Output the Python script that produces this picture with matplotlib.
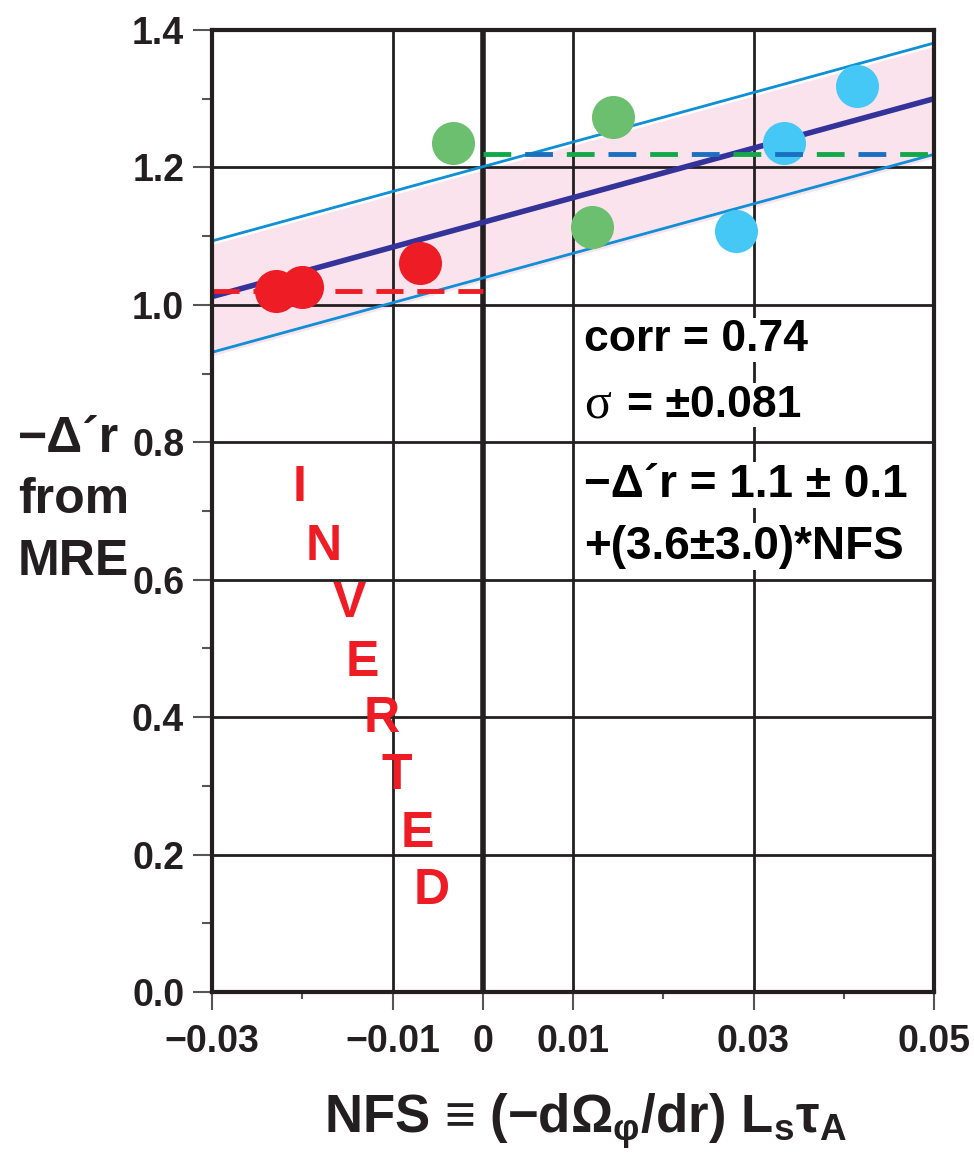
import matplotlib
matplotlib.use('Agg')
import matplotlib.pyplot as plt
import numpy as np

plt.rcParams['font.family'] = ['Liberation Sans', 'DejaVu Sans']
plt.rcParams['font.weight'] = 'bold'
plt.rcParams['mathtext.default'] = 'regular'
plt.rcParams['lines.scale_dashes'] = False

# NFS and -delta' r for the three groups of shots
nfs_red = [-0.0229, -0.0200, -0.0070]
dr_red = [1.020, 1.026, 1.061]
nfs_green = [-0.0033, 0.0144, 0.0121]
dr_green = [1.236, 1.274, 1.113]
nfs_blue = [0.0281, 0.0334, 0.0415]
dr_blue = [1.108, 1.236, 1.319]

# linear fit and scatter
fit_intercept = 1.12
fit_slope = 3.6
sigma = 0.081
mean_red = 1.02
mean_green_blue = 1.22

x_ticks = [-0.03, -0.01, 0, 0.01, 0.03, 0.05]
x_ticklabels = ['\u22120.03', '\u22120.01', '0', '0.01', '0.03', '0.05']
x_minor = [-0.02, 0.02, 0.04]
y_ticks = [0.0, 0.2, 0.4, 0.6, 0.8, 1.0, 1.2, 1.4]
y_ticklabels = ['0.0', '0.2', '0.4', '0.6', '0.8', '1.0', '1.2', '1.4']
y_minor = [0.1, 0.3, 0.5, 0.7, 0.9, 1.1, 1.3]

word = 'INVERTED'
word_x = [-0.0203, -0.0176, -0.0148, -0.0133, -0.0112, -0.0095, -0.0073, -0.0057]
word_y = [0.734, 0.647, 0.565, 0.479, 0.397, 0.314, 0.230, 0.147]

RED = '#ee1c25'
GREEN = '#6cbf6e'
LBLUE = '#45c8f5'
INK = '#231f20'

fig = plt.figure(figsize=(9.74, 11.6), dpi=100)
ax = fig.add_axes([212/974, 168/1160, 722/974, 962/1160])
ax.set_xlim(-0.03, 0.05)
ax.set_ylim(0, 1.4)

# grid
for yv in [0.2, 0.4, 0.6, 0.8, 1.0, 1.2]:
    ax.axhline(yv, color=INK, lw=2.0, zorder=1)
for xv in [-0.01, 0.01, 0.03]:
    ax.axvline(xv, color=INK, lw=2.0, zorder=1)
ax.axvline(0, color=INK, lw=4.0, zorder=1)

# fit with +/- sigma band
xf = np.array([-0.03, 0.05])
yf = fit_intercept + fit_slope * xf
ax.fill_between(xf, yf - sigma - 0.005, yf + sigma - 0.005, color='#fae3ec', lw=0, zorder=0)
ax.plot(xf, yf, color='#333399', lw=4.0, zorder=2, solid_capstyle='butt')
ax.plot(xf, yf + sigma, color='#0f8fd6', lw=2.0, zorder=2)
ax.plot(xf, yf - sigma, color='#0f8fd6', lw=2.0, zorder=2)

ax.plot([-0.03, 0], [mean_red, mean_red], color=RED, lw=3.5,
        linestyle=(0, (19.5, 10)), zorder=2.5)

ax.plot(nfs_red, dr_red, 'o', ms=31, color=RED, mec='none', zorder=3)
ax.plot(nfs_green, dr_green, 'o', ms=31, color=GREEN, mec='none', zorder=3)
ax.plot(nfs_blue, dr_blue, 'o', ms=31, color=LBLUE, mec='none', zorder=3)

ax.plot([0, 0.05], [mean_green_blue, mean_green_blue], color='#12a84a', lw=3.5,
        linestyle=(0, (20, 40)), zorder=3.5)
ax.plot([0, 0.05], [mean_green_blue, mean_green_blue], color='#1a6fc0', lw=3.5,
        linestyle=(30, (20, 40)), zorder=3.5)

for ch, xv, yv in zip(word, word_x, word_y):
    ax.text(xv, yv, ch, color=RED, fontsize=36, fontweight='bold',
            ha='center', va='center', zorder=4)

box = dict(facecolor='white', edgecolor='none', pad=1)
ax.text(0.0112, 0.949, 'corr = 0.74', fontsize=32, va='center', ha='left', bbox=box, zorder=4)
ax.text(0.0112, 0.854, '\u03c3', fontsize=36, va='center', ha='left', zorder=4,
        fontfamily=['Liberation Serif', 'DejaVu Serif'], fontweight='normal', bbox=box)
ax.text(0.0160, 0.854, '= \u00b10.081', fontsize=32, va='center', ha='left', bbox=box, zorder=4)
ax.text(0.0112, 0.738, '\u2212\u0394\u00b4r = 1.1 \u00b1 0.1', fontsize=33, va='center', ha='left',
        bbox=box, zorder=4)
ax.text(0.0112, 0.648, '+(3.6\u00b13.0)*NFS', fontsize=33, va='center', ha='left', bbox=box, zorder=4)

# axes frame and ticks
for sp in ax.spines.values():
    sp.set_linewidth(3.0)
    sp.set_color(INK)
    sp.set_zorder(5)
ax.set_xticks(x_ticks)
ax.set_xticklabels(x_ticklabels)
ax.set_xticks(x_minor, minor=True)
ax.set_yticks(y_ticks)
ax.set_yticklabels(y_ticklabels)
ax.set_yticks(y_minor, minor=True)
ax.tick_params(axis='x', which='major', length=13, width=1.5, color='#555555',
               pad=10, labelsize=27)
ax.tick_params(axis='x', which='minor', length=5, width=1.5, color='#555555')
ax.tick_params(axis='y', which='major', length=14, width=1.5, color='#555555',
               pad=6, labelsize=27)
ax.tick_params(axis='y', which='minor', length=7, width=1.5, color='#555555')
for lab in ax.get_xticklabels() + ax.get_yticklabels():
    lab.set_fontweight('bold')
    lab.set_color(INK)

fig.text(585/974, 1 - 1133/1160, 'NFS \u2261 (\u2212d\u03a9$_{\u03c6}$/dr) L$_{s}$\u03c4$_{A}$',
         fontsize=38, fontweight='bold', ha='center', va='baseline', color=INK)

fig.text(18/974, 1 - 452/1160, '\u2212\u0394\u00b4r', fontsize=36, fontweight='bold',
         ha='left', va='baseline', color=INK)
fig.text(18/974, 1 - 513/1160, 'from', fontsize=36, fontweight='bold',
         ha='left', va='baseline', color=INK)
fig.text(18/974, 1 - 575/1160, 'MRE', fontsize=36, fontweight='bold',
         ha='left', va='baseline', color=INK)

fig.savefig('out.png', dpi=100)
